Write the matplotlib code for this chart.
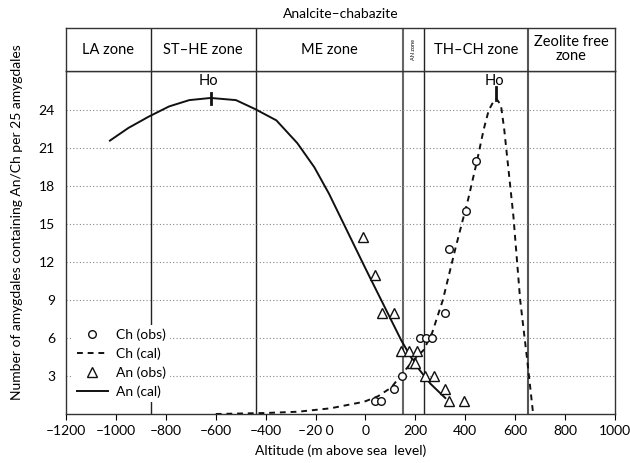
import matplotlib
matplotlib.use("Agg")
import matplotlib.pyplot as plt

plt.rcParams["font.family"] = ["Lato", "DejaVu Sans"]

# zone boundaries (m above sea level) and zone names for the header row
zone_edges = [-860, -440, 150, 235, 650]
zone_names = ["LA zone", "ST–HE zone", "ME zone", "AN zone", "TH–CH zone", "Zeolite free\nzone"]

# chabazite observed / calculated
ch_obs_x = [39, 63, 114, 145, 219, 242, 266, 320, 334, 401, 442]
ch_obs_y = [1, 1, 2, 3, 6, 6, 6, 8, 13, 16, 20]
ch_cal_x = [-600, -400, -270, -140, -5, 50, 104, 138, 190, 233, 267, 310, 362, 412, 446, 474, 494, 516,
            525, 543, 556, 570, 593, 620, 648, 672]
ch_cal_y = [0, 0.08, 0.18, 0.45, 0.97, 1.4, 2.1, 2.95, 4.2, 5.05, 6.4, 9.0, 13.2, 17.0, 19.9, 22.5, 24.0, 24.8,
            24.9, 24.4, 22.5, 19.9, 15.6, 9.0, 4.3, 0]

# analcite observed / calculated
an_obs_x = [-10, 37, 67, 113, 144, 175, 208, 188, 198, 238, 275, 320, 336, 394]
an_obs_y = [14, 11, 8, 8, 5, 5, 5, 4, 4, 3, 3, 2, 1, 1]
an_cal_x = [-1024, -950, -868, -787, -706, -620, -519, -443, -357, -273, -205, -146, 0, 144, 200, 260, 320]
an_cal_y = [21.6, 22.6, 23.5, 24.3, 24.8, 24.97, 24.8, 24.1, 23.2, 21.4, 19.5, 17.4, 11.5, 5.8, 3.9, 2.4, 1.26]

# "Ho" markers (x, bottom, top)
ho_x = [-620, 524]
ho_lo = [24.5, 24.8]
ho_hi = [25.4, 25.8]

xticks = [-1200, -1000, -800, -600, -400, -200, 0, 200, 400, 600, 800, 1000]
xticklabels = ["–1200", "–1000", "–800", "–600", "–400", "–20 0", "0", "200", "400", "600", "800", "1000"]
yticks = [3, 6, 9, 12, 15, 18, 21, 24]

W, H = 630, 463
fig = plt.figure(figsize=(W / 100, H / 100), dpi=100)
L, R, B, T, TOP = 66, 615, 414, 71, 28
ax = fig.add_axes([L / W, 1 - B / H, (R - L) / W, (B - T) / H])
hx = fig.add_axes([L / W, 1 - T / H, (R - L) / W, (T - TOP) / H], sharex=ax)

edge_col = ["#222222", "#222222", "#666666", "#222222", "#555555"]
edge_lw = [1.0, 1.0, 1.5, 1.0, 1.5]
for xe, c, lw in zip(zone_edges, edge_col, edge_lw):
    ax.axvline(xe, color=c, lw=lw, zorder=1)
    hx.axvline(xe, color=c, lw=lw, zorder=1)

ax.set_xlim(-1200, 1000)
ax.set_ylim(0, 27.1)
ax.set_yticks(yticks)
ax.set_xticks(xticks)
ax.set_xticklabels(xticklabels)
ax.tick_params(axis="y", length=0, pad=8, labelsize=10)
ax.tick_params(axis="x", length=4, direction="out", labelsize=10, pad=4)
ax.grid(axis="y", color="#888888", lw=0.8, linestyle=(0, (1, 2)), zorder=0)
for s in ax.spines.values():
    s.set_linewidth(1.0)
    s.set_color("#333333")

ax.plot(an_cal_x, an_cal_y, color="#111111", lw=1.4, label="An (cal)", zorder=3)
ax.plot(ch_cal_x, ch_cal_y, color="#111111", lw=1.4, linestyle=(0, (3, 2.5)), label="Ch (cal)", zorder=3)
ax.plot(ch_obs_x, ch_obs_y, linestyle="none", marker="o", ms=5.5, mfc="white", mec="#111111", mew=1.0,
        label="Ch (obs)", zorder=4)
ax.plot(an_obs_x, an_obs_y, linestyle="none", marker="^", ms=7.5, mfc="white", mec="#111111", mew=1.0,
        label="An (obs)", zorder=4)

for x, lo, hi in zip(ho_x, ho_lo, ho_hi):
    ax.plot([x, x], [lo, hi], color="#111111", lw=2.0, zorder=4)
    ax.text(x - 8, 26.3, "Ho", ha="center", va="center", fontsize=10.5)

handles, labels = ax.get_legend_handles_labels()
order = [labels.index(n) for n in ["Ch (obs)", "Ch (cal)", "An (obs)", "An (cal)"]]
leg = ax.legend([handles[i] for i in order], [labels[i] for i in order], loc="lower left",
                bbox_to_anchor=(0.0, 0.015), frameon=True, fontsize=10, handlelength=2.2,
                labelspacing=0.45, borderpad=0.3, handletextpad=0.6)
leg.get_frame().set_facecolor("white")
leg.get_frame().set_edgecolor("none")
leg.get_frame().set_alpha(1)
leg.set_zorder(6)

# header row with zone names
hx.set_ylim(0, 1)
hx.tick_params(left=False, bottom=False, labelleft=False, labelbottom=False)
for s in hx.spines.values():
    s.set_linewidth(1.0)
    s.set_color("#333333")
bounds = [-1200] + zone_edges + [1000]
for i, name in enumerate(zone_names):
    xc = (bounds[i] + bounds[i + 1]) / 2
    if name == "AN zone":
        hx.text(xc, 0.5, name, rotation=90, ha="center", va="center", fontsize=4)
    else:
        hx.text(xc, 0.5, name, ha="center", va="center", fontsize=10.5, linespacing=1.0)

fig.text((L + R) / 2 / W, 1 - 14 / H, "Analcite–chabazite", ha="center", va="center", fontsize=10)
fig.text((L + R) / 2 / W, 1 - 451 / H, "Altitude (m above sea  level)", ha="center", va="center", fontsize=10)
fig.text(17 / W, 1 - 222 / H, "Number of amygdales containing An/Ch per 25 amygdales",
         ha="center", va="center", rotation=90, fontsize=10)

fig.savefig("out.png", dpi=100)
